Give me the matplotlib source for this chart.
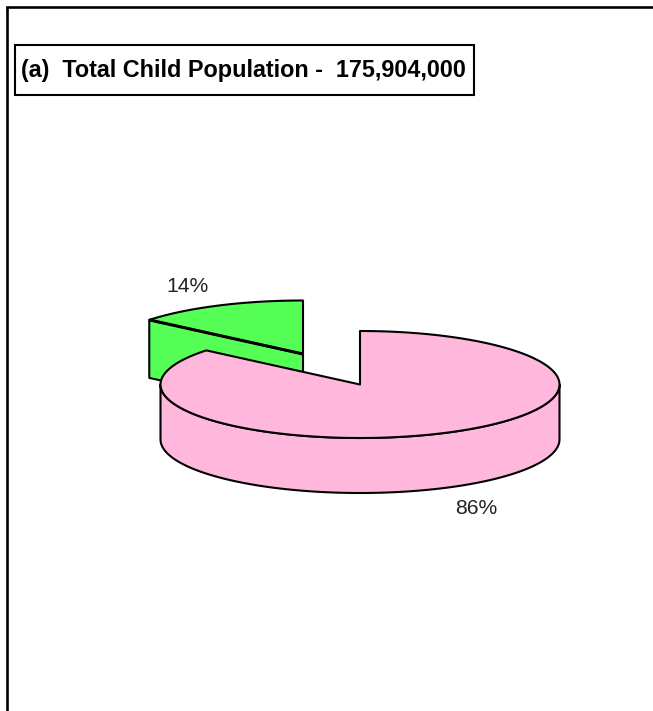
"""Exploded 3-D style pie of the child population shares."""

import numpy as np
import matplotlib
matplotlib.use("Agg")
import matplotlib.pyplot as plt
from matplotlib.patches import Polygon, Rectangle

# Data
shares = [14, 86]
share_labels = ["14%", "86%"]
title_text = "(a)  Total Child Population -  175,904,000"

# Layout, in image pixels
WIDTH, HEIGHT = 653, 711
RX, RY = 199.5, 53.5
DEPTH = 55
PINK_CENTER = (360, 384.5)
GREEN_CENTER = (303, 354)

PINK = "#FFB8DC"
GREEN = "#55FF55"

plt.rcParams["font.family"] = ["Liberation Sans", "DejaVu Sans"]

fig = plt.figure(figsize=(WIDTH / 100, HEIGHT / 100), dpi=100)
ax = fig.add_axes([0, 0, 1, 1])
ax.set_xlim(0, WIDTH)
ax.set_ylim(HEIGHT, 0)
ax.axis("off")


def rim(center, start, end, dy=0.0, n=90):
    # angles in degrees, counter-clockwise on screen from the +x axis
    t = np.radians(np.linspace(start, end, n))
    return np.column_stack([center[0] + RX * np.cos(t), center[1] - RY * np.sin(t) + dy])


def draw_shape(pts, color, z):
    ax.add_patch(Polygon(pts, closed=True, facecolor=color, edgecolor="black",
                         linewidth=1.5, joinstyle="round", zorder=z))


# Both slices start from 12 o'clock, green runs counter-clockwise
green_sweep = 360 * shares[0] / sum(shares)
start = 90
end = start + green_sweep

# Green slice, pulled out up and left
gx, gy = GREEN_CENTER
green_end = rim(GREEN_CENTER, end, end, n=1)[0]
draw_shape(np.vstack([[green_end], [green_end + (0, DEPTH + 3)],
                      [(gx, gy + DEPTH + 3)], [(gx, gy)]]), GREEN, 2)
draw_shape(np.vstack([[(gx, gy)], rim(GREEN_CENTER, start, end)]), GREEN, 3)
# the heavier seam along the cut face
ax.plot([gx, green_end[0]], [gy, green_end[1]], color="black", linewidth=2.2,
        solid_capstyle="butt", zorder=4)

# Pink slice: wall first, then the top face
wall_top = rim(PINK_CENTER, 180, 360)
wall_bottom = rim(PINK_CENTER, 360, 180, dy=DEPTH)
draw_shape(np.vstack([wall_top, wall_bottom]), PINK, 5)
draw_shape(np.vstack([[PINK_CENTER], rim(PINK_CENTER, end, 360 + start, n=300)]), PINK, 6)

# Percent labels
ax.text(187, 286, share_labels[0], fontsize=15.2, color="#222222", ha="center", va="center")
ax.text(476, 509, share_labels[1], fontsize=15.2, color="#222222", ha="center", va="center")

# Title box
ax.add_patch(Rectangle((15, 45), 459, 50, facecolor="white", edgecolor="black", linewidth=1.5))
ax.text(21, 71, title_text, fontsize=16.8, fontweight="bold", color="black", ha="left", va="center")

# Outer frame, only top and left sides are in the picture
ax.plot([7, 7], [HEIGHT, 7], color="black", linewidth=1.9, solid_capstyle="butt")
ax.plot([7, WIDTH], [7, 7], color="black", linewidth=1.9, solid_capstyle="projecting")

fig.savefig("out.png", dpi=100, facecolor="white")
plt.close(fig)
